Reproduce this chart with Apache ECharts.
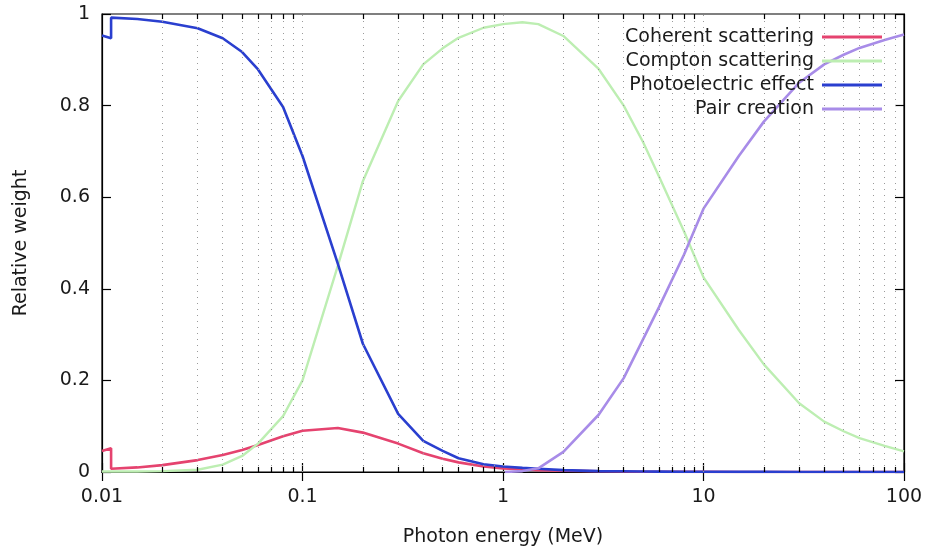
<!DOCTYPE html>
<html>
<head>
<meta charset="utf-8">
<script src="https://cdn.jsdelivr.net/npm/echarts@6/dist/echarts.min.js"></script>
<style>html,body{margin:0;padding:0;background:#fff}#c{width:927px;height:552px}</style>
</head>
<body>
<div id="c"></div>
<script>
// ---- data ----
const energies = [0.01, 0.0111, 0.0111, 0.015, 0.02, 0.03, 0.04, 0.05, 0.06, 0.08, 0.1, 0.15, 0.2, 0.3, 0.4, 0.5, 0.6, 0.8, 1, 1.25, 1.5, 2, 3, 4, 5, 6, 8, 10, 15, 20, 30, 40, 50, 60, 80, 100];
const coherent = [0.046, 0.052, 0.007, 0.010, 0.015, 0.026, 0.037, 0.048, 0.059, 0.078, 0.090, 0.096, 0.086, 0.062, 0.041, 0.029, 0.021, 0.012, 0.008, 0.006, 0.004, 0.003, 0.0015, 0.001, 0.0007, 0.0005, 0.0003, 0.0002, 0.0001, 0.0001, 0, 0, 0, 0, 0, 0];
const compton = [0.001, 0.001, 0.001, 0.001, 0.002, 0.005, 0.016, 0.035, 0.062, 0.122, 0.20, 0.45, 0.635, 0.81, 0.89, 0.925, 0.948, 0.97, 0.978, 0.982, 0.978, 0.952, 0.88, 0.80, 0.72, 0.645, 0.525, 0.425, 0.31, 0.235, 0.15, 0.11, 0.089, 0.074, 0.057, 0.045];
const photoelectric = [0.953, 0.947, 0.992, 0.989, 0.983, 0.969, 0.947, 0.917, 0.879, 0.797, 0.69, 0.455, 0.28, 0.127, 0.068, 0.046, 0.030, 0.017, 0.012, 0.009, 0.007, 0.004, 0.002, 0.0015, 0.001, 0.0008, 0.0006, 0.0005, 0.0003, 0.0002, 0.0001, 0.0001, 0.0001, 0.0001, 0, 0];
const pairEnergies = [1.022, 1.25, 1.5, 2, 3, 4, 5, 6, 8, 10, 15, 20, 30, 40, 50, 60, 80, 100];
const pairCreation = [0, 0.002, 0.008, 0.044, 0.125, 0.205, 0.29, 0.36, 0.475, 0.575, 0.69, 0.765, 0.85, 0.89, 0.911, 0.926, 0.943, 0.955];
const seriesNames = ['Coherent scattering', 'Compton scattering', 'Photoelectric effect', 'Pair creation'];
const xTickLabels = ['0.01', '0.1', '1', '10', '100'];
const decades = [0.01, 0.1, 1, 10];
const multipliers = [1, 2, 3, 4, 5, 6, 7, 8, 9];

// ---- build ----
const pairs = (xs, ys) => xs.map((x, i) => [x, ys[i]]);
const gridXs = [];
decades.forEach(d => multipliers.forEach(m => { const v = +(d * m).toPrecision(3); if (v > 0.01) gridXs.push(v); }));
const minorXs = [];
decades.forEach(d => multipliers.forEach(m => { if (m > 1) minorXs.push(+(d * m).toPrecision(3)); }));

const font = 'DejaVu Sans';
const fs = 19;
const textColor = '#1a1a1a';
const colors = ['#e5436f', '#bdeeb2', '#2a3fcf', '#a88ce8'];

const gridLines = gridXs.map(v => [{ coord: [v, 0] }, { coord: [v, 1] }]);
const minorTicks = [];
minorXs.forEach(v => {
  minorTicks.push([{ coord: [v, 0] }, { coord: [v, 0.011] }]);
  minorTicks.push([{ coord: [v, 1] }, { coord: [v, 0.989] }]);
});

const lineSeries = (name, data, color, width, z) => ({
  name, type: 'line', data, showSymbol: false, symbol: 'none',
  lineStyle: { color, width }, itemStyle: { color }, z, animation: false
});

const axisLineStyle = { show: true, lineStyle: { color: '#000', width: 1.2 } };
const tickStyle = { show: true, inside: true, length: 9, lineStyle: { color: '#000', width: 1.2 } };

const chart = echarts.init(document.getElementById('c'), null, { renderer: 'canvas' });
chart.setOption({
  animation: false,
  backgroundColor: '#fff',
  textStyle: { fontFamily: font },
  grid: { left: 102, right: 23, top: 14, bottom: 79, show: true, borderColor: '#000', borderWidth: 1.2, backgroundColor: 'transparent' },
  legend: {
    orient: 'vertical', right: 40, top: 22, align: 'right',
    data: seriesNames, icon: 'rect', itemWidth: 60, itemHeight: 3, itemGap: 4,
    textStyle: { fontFamily: font, fontSize: fs, color: textColor, lineHeight: 20, padding: [0, 3, 0, 0] },
    selectedMode: false
  },
  xAxis: [{
    type: 'log', logBase: 10, min: 0.01, max: 100,
    name: 'Photon energy (MeV)', nameLocation: 'middle', nameGap: 56,
    nameTextStyle: { fontFamily: font, fontSize: fs, color: textColor },
    axisLine: axisLineStyle, axisTick: tickStyle,
    axisLabel: { fontFamily: font, fontSize: fs, color: textColor, margin: 16,
      formatter: v => { const i = Math.round(Math.log10(v) + 2); return xTickLabels[i] !== undefined ? xTickLabels[i] : ''; } },
    splitLine: { show: false }
  }, {
    type: 'log', logBase: 10, min: 0.01, max: 100, position: 'top',
    axisLine: axisLineStyle, axisTick: tickStyle,
    axisLabel: { show: false }, splitLine: { show: false }
  }],
  yAxis: [{
    type: 'value', min: 0, max: 1, interval: 0.2,
    name: 'Relative weight', nameLocation: 'middle', nameGap: 71,
    nameTextStyle: { fontFamily: font, fontSize: fs, color: textColor },
    axisLine: axisLineStyle, axisTick: tickStyle,
    axisLabel: { fontFamily: font, fontSize: fs, color: textColor, margin: 12,
      formatter: v => String(+v.toFixed(1)) },
    splitLine: { show: false }
  }, {
    type: 'value', min: 0, max: 1, interval: 0.2, position: 'right',
    axisLine: axisLineStyle, axisTick: tickStyle,
    axisLabel: { show: false }, splitLine: { show: false }
  }],
  series: [
    {
      name: 'grid', type: 'line', data: [[0.01, 0]], symbol: 'none', lineStyle: { opacity: 0 }, z: 1, silent: true,
      markLine: {
        silent: true, symbol: ['none', 'none'], label: { show: false }, animation: false,
        lineStyle: { color: '#9a9a9a', width: 1, type: [1, 5] },
        data: gridLines
      }
    },
    {
      name: 'minor', type: 'line', data: [[0.01, 0]], symbol: 'none', lineStyle: { opacity: 0 }, z: 5, silent: true,
      markLine: {
        silent: true, symbol: ['none', 'none'], label: { show: false }, animation: false,
        lineStyle: { color: '#000', width: 1.2, type: 'solid' },
        data: minorTicks
      }
    },
    lineSeries(seriesNames[0], pairs(energies, coherent), colors[0], 2.6, 3),
    lineSeries(seriesNames[1], pairs(energies, compton), colors[1], 2.4, 3),
    lineSeries(seriesNames[2], pairs(energies, photoelectric), colors[2], 2.6, 3),
    lineSeries(seriesNames[3], pairs(pairEnergies, pairCreation), colors[3], 2.6, 3)
  ]
});
</script>
</body>
</html>
